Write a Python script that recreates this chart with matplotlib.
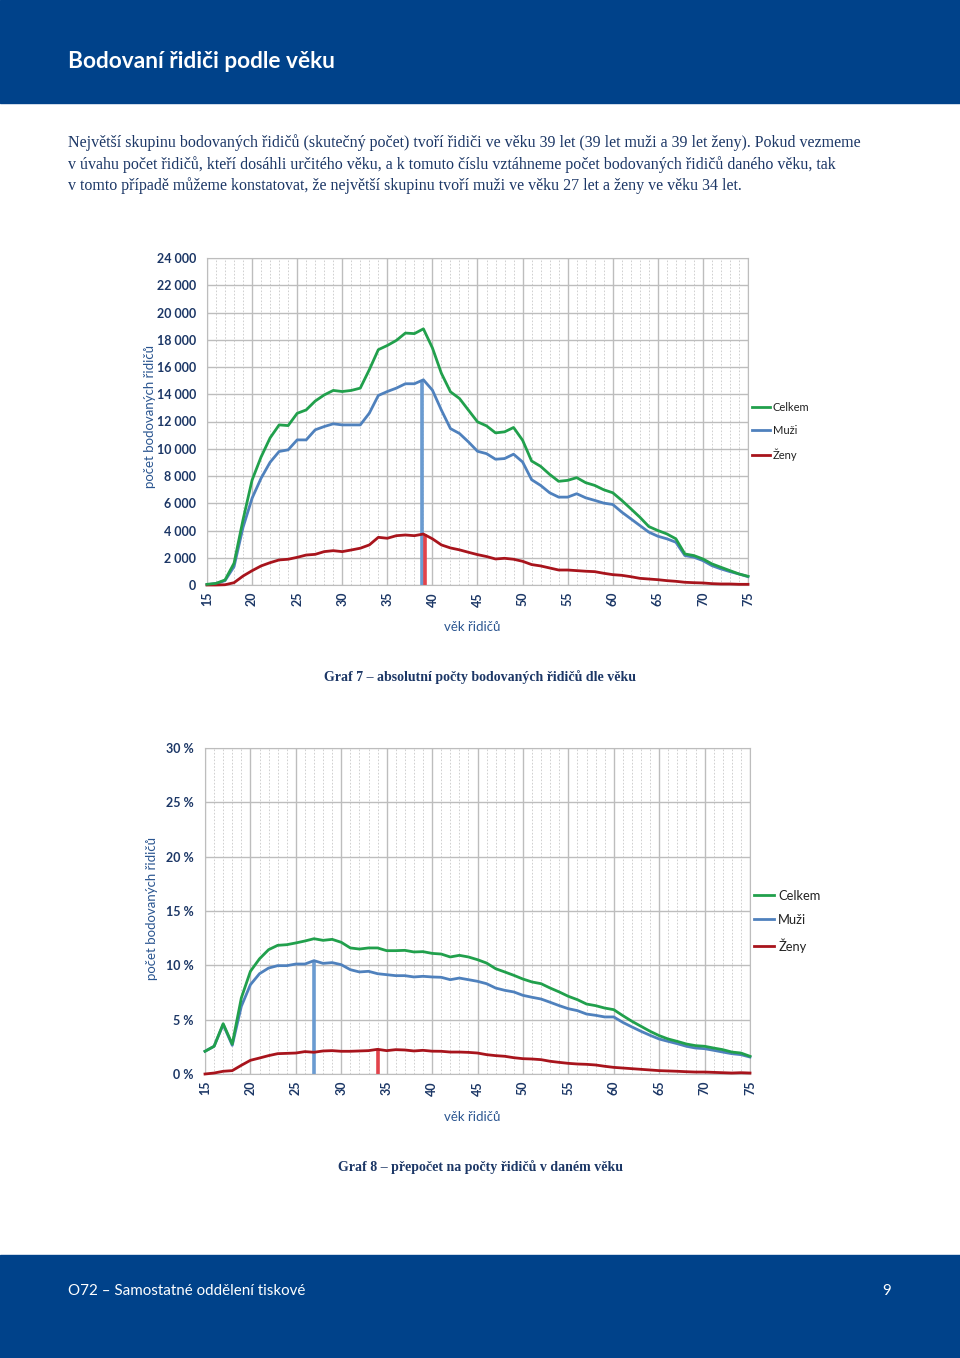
# graf_vek.py
# Page with two line charts of penalised drivers by age (absolute counts and share of drivers).

import matplotlib.pyplot as plt
from matplotlib.patches import Rectangle
from matplotlib.ticker import FuncFormatter, MultipleLocator

# Ages on the x axis.
ages = list(range(15, 76))

# Graf 7 - absolute counts of penalised drivers by age.
abs_celkem = [50, 120, 370, 1600, 4800, 7700, 9400, 10800, 11750, 11700,
              12600, 12850, 13500, 13950, 14280, 14200, 14280, 14450, 15800, 17270,
              17580, 17950, 18490, 18450, 18800, 17400, 15530, 14180, 13690, 12830,
              11975, 11680, 11165, 11240, 11560, 10625, 9100, 8710, 8120, 7610,
              7680, 7880, 7510, 7310, 6990, 6770, 6210, 5600, 4980, 4290,
              4000, 3750, 3390, 2280, 2160, 1910, 1550, 1300, 1055, 810,
              640]
abs_muzi = [25, 100, 320, 1350, 4240, 6370, 7840, 9010, 9800, 9920,
            10650, 10650, 11390, 11630, 11830, 11750, 11750, 11750, 12610, 13910,
            14200, 14450, 14770, 14770, 15060, 14300, 12830, 11480, 11120, 10500,
            9815, 9640, 9230, 9280, 9600, 9030, 7730, 7310, 6770, 6450,
            6450, 6700, 6400, 6210, 6010, 5910, 5350, 4860, 4370, 3880,
            3580, 3390, 3140, 2160, 2040, 1790, 1420, 1180, 980, 810,
            610]
abs_zeny = [0, 0, 20, 170, 660, 1050, 1400, 1640, 1840, 1890,
            2030, 2200, 2250, 2450, 2520, 2450, 2570, 2700, 2940, 3500,
            3430, 3620, 3670, 3620, 3740, 3390, 2940, 2720, 2580, 2400,
            2230, 2090, 1910, 1960, 1890, 1740, 1500, 1400, 1250, 1100,
            1100, 1055, 1010, 980, 860, 760, 710, 610, 490, 440,
            390, 320, 270, 200, 170, 150, 100, 75, 75, 50,
            50]

# Graf 8 - penalised drivers as percent of all drivers of the same age.
pct_celkem = [2.09, 2.55, 4.63, 2.75, 7.0, 9.45, 10.6, 11.44, 11.84, 11.9,
              12.06, 12.24, 12.45, 12.3, 12.39, 12.12, 11.6, 11.5, 11.6, 11.6,
              11.35, 11.35, 11.38, 11.23, 11.26, 11.1, 11.04, 10.77, 10.92, 10.77,
              10.52, 10.21, 9.69, 9.39, 9.08, 8.74, 8.47, 8.31, 7.91, 7.55,
              7.15, 6.84, 6.44, 6.29, 6.07, 5.92, 5.37, 4.85, 4.39, 3.93,
              3.53, 3.22, 3.0, 2.76, 2.61, 2.55, 2.39, 2.24, 2.02, 1.93,
              1.63]
pct_muzi = [2.09, 2.55, 4.55, 2.64, 6.23, 8.22, 9.23, 9.75, 9.97, 9.97,
            10.12, 10.12, 10.43, 10.18, 10.25, 10.06, 9.6, 9.39, 9.45, 9.23,
            9.14, 9.05, 9.05, 8.93, 8.99, 8.93, 8.9, 8.68, 8.83, 8.68,
            8.53, 8.31, 7.91, 7.7, 7.55, 7.24, 7.06, 6.9, 6.6, 6.29,
            6.01, 5.83, 5.52, 5.4, 5.25, 5.25, 4.75, 4.33, 3.93, 3.56,
            3.22, 3.0, 2.79, 2.55, 2.39, 2.33, 2.18, 2.02, 1.87, 1.78,
            1.56]
pct_zeny = [0.0, 0.09, 0.25, 0.31, 0.8, 1.26, 1.47, 1.69, 1.87, 1.9,
            1.93, 2.06, 2.0, 2.12, 2.15, 2.09, 2.09, 2.12, 2.15, 2.27,
            2.15, 2.24, 2.21, 2.12, 2.18, 2.1, 2.09, 2.02, 2.02, 1.99,
            1.93, 1.78, 1.69, 1.63, 1.5, 1.41, 1.38, 1.32, 1.17, 1.07,
            0.98, 0.92, 0.89, 0.83, 0.71, 0.61, 0.55, 0.49, 0.43, 0.37,
            0.31, 0.28, 0.25, 0.21, 0.18, 0.18, 0.15, 0.12, 0.09, 0.12,
            0.09]

# Series names for the legend.
series_names = ["Celkem", "Muži", "Ženy"]

# Page texts.
page_title = "Bodovaní řidiči podle věku"
body_lines = [
    "Největší skupinu bodovaných řidičů (skutečný počet) tvoří řidiči ve věku 39 let (39 let muži a 39 let ženy). Pokud vezmeme",
    "v úvahu počet řidičů, kteří dosáhli určitého věku, a k tomuto číslu vztáhneme počet bodovaných řidičů daného věku, tak",
    "v tomto případě můžeme konstatovat, že největší skupinu tvoří muži ve věku 27 let a ženy ve věku 34 let.",
]
caption_7 = "Graf 7 – absolutní počty bodovaných řidičů dle věku"
caption_8 = "Graf 8 – přepočet na počty řidičů v daném věku"
footer_text = "O72 – Samostatné oddělení tiskové"
page_number = "9"
y_title = "počet bodovaných řidičů"
x_title = "věk řidičů"

# Colours.
navy = "#00428a"
text_navy = "#1c3766"
label_blue = "#2a5590"
green = "#21a04c"
blue = "#4f81bd"
red = "#a8141c"
mark_blue = "#6a9bd1"
mark_red = "#e2434b"

# Page size in pixels.
W, H = 960, 1358


# Convert pixel positions on the page to figure fractions.
def fx(px):
    return px / W


def fy(py):
    return 1 - py / H


fig = plt.figure(figsize=(W / 100, H / 100), dpi=100)

# Blue header and footer bands.
fig.add_artist(Rectangle((0, fy(103)), 1, 103 / H, transform=fig.transFigure, color=navy, zorder=0))
fig.add_artist(Rectangle((0, 0), 1, (H - 1255) / H, transform=fig.transFigure, color=navy, zorder=0))

# Header title.
fig.text(fx(68), fy(61), page_title, color="white", fontsize=16.3, fontweight="bold",
         family="Lato", va="center", ha="left")

# Intro paragraph.
for i, line in enumerate(body_lines):
    fig.text(fx(68), fy(143 + i * 21.5), line, color=text_navy, fontsize=11.5,
             family="Liberation Serif", va="center", ha="left")

# Footer texts.
fig.text(fx(68), fy(1291), footer_text, color="white", fontsize=10.9, family="Lato", va="center")
fig.text(fx(887), fy(1291), page_number, color="white", fontsize=10.9, family="Lato", va="center", ha="center")


# Draw one chart with three series and the peak markers.
def draw_chart(rect, celkem, muzi, zeny, ymax, ystep, fmt, legend_size, spacing, marks):
    ax = fig.add_axes(rect)
    ax.plot(ages, celkem, color=green, lw=2.0, label=series_names[0], zorder=4, clip_on=False)
    ax.plot(ages, muzi, color=blue, lw=2.0, label=series_names[1], zorder=3, clip_on=False)
    ax.plot(ages, zeny, color=red, lw=2.0, label=series_names[2], zorder=3, clip_on=False)

    # Vertical drop lines at the maximum of men and women.
    for series, color, shift in marks:
        i = series.index(max(series))
        ax.vlines(ages[i] + shift, 0, series[i], color=color, lw=2.6, zorder=2)

    ax.set_xlim(15, 75)
    ax.set_ylim(0, ymax)
    ax.xaxis.set_major_locator(MultipleLocator(5))
    ax.xaxis.set_minor_locator(MultipleLocator(1))
    ax.yaxis.set_major_locator(MultipleLocator(ystep))
    ax.yaxis.set_major_formatter(FuncFormatter(fmt))
    ax.set_axisbelow(True)
    ax.grid(which="major", color="#bdbdbd", lw=1.0)
    ax.grid(which="minor", axis="x", color="#c9c9c9", lw=0.6, ls=(0, (2, 2)))
    ax.tick_params(which="both", length=0)
    ax.tick_params(axis="x", pad=5, labelrotation=90)
    ax.tick_params(axis="y", pad=8)
    for lab in ax.get_xticklabels() + ax.get_yticklabels():
        lab.set_fontweight("bold")
        lab.set_fontsize(9)
        lab.set_color(text_navy)
        lab.set_family("Lato")
    for s in ax.spines.values():
        s.set_color("#bdbdbd")

    leg = ax.legend(loc="center left", bbox_to_anchor=(1.007, 0.469), frameon=False,
                    handlelength=1.6, handletextpad=0.3, labelspacing=spacing,
                    borderaxespad=0, borderpad=0,
                    prop={"family": "Lato", "size": legend_size})
    for t in leg.get_texts():
        t.set_color("#222222")
    return ax


# Graf 7.
draw_chart([fx(207), fy(585), fx(748) - fx(207), (585 - 258) / H],
           abs_celkem, abs_muzi, abs_zeny, 24000, 2000,
           lambda v, p: f"{int(v):,}".replace(",", " "), 8, 1.1,
           [(abs_muzi, mark_blue, -0.15), (abs_zeny, mark_red, 0.2)])
fig.text(fx(150), fy(417), y_title, rotation=90, ha="center", va="center",
         color=label_blue, fontsize=9.5, family="Lato")
fig.text(fx(472), fy(627), x_title, ha="center", va="center", color=label_blue, fontsize=9.5, family="Lato")
fig.text(fx(480), fy(677), caption_7, ha="center", va="center", color=text_navy,
         fontsize=10, fontweight="bold", family="Liberation Serif")

# Graf 8.
draw_chart([fx(205), fy(1074), fx(750) - fx(205), (1074 - 748) / H],
           pct_celkem, pct_muzi, pct_zeny, 30, 5,
           lambda v, p: f"{int(v)} %", 9.3, 0.95,
           [(pct_muzi, mark_blue, 0), (pct_zeny, mark_red, 0)])
fig.text(fx(152), fy(909), y_title, rotation=90, ha="center", va="center",
         color=label_blue, fontsize=9.5, family="Lato")
fig.text(fx(472), fy(1117), x_title, ha="center", va="center", color=label_blue, fontsize=9.5, family="Lato")
fig.text(fx(480), fy(1167), caption_8, ha="center", va="center", color=text_navy,
         fontsize=10, fontweight="bold", family="Liberation Serif")

# Save the page.
fig.savefig("out.png", dpi=100)
plt.close(fig)
